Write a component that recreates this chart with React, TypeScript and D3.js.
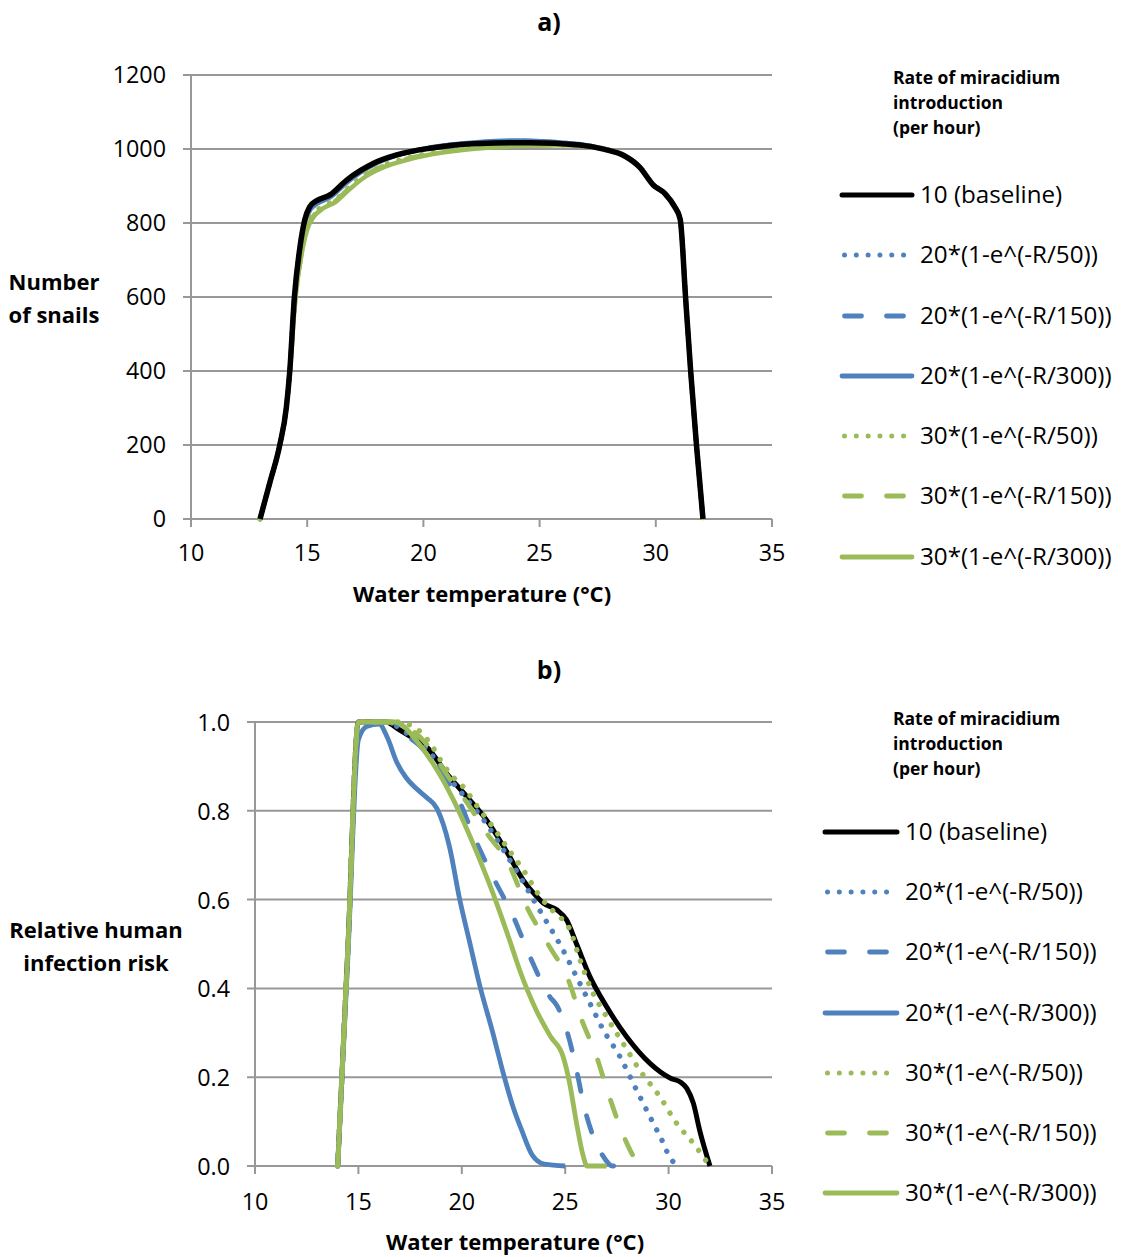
import React from 'react';
import * as d3 from 'd3';

type Pt = [number, number];

// ---------- shared labels ----------
const xTicks = [10, 15, 20, 25, 30, 35];
const snailTicks = [0, 200, 400, 600, 800, 1000, 1200];
const riskTicks = [0, 0.2, 0.4, 0.6, 0.8, 1.0];
const legendTitle = ['Rate of miracidium', 'introduction', '(per hour)'];
const legendLabels = [
  '10 (baseline)',
  '20*(1-e^(-R/50))',
  '20*(1-e^(-R/150))',
  '20*(1-e^(-R/300))',
  '30*(1-e^(-R/50))',
  '30*(1-e^(-R/150))',
  '30*(1-e^(-R/300))',
];

// ---------- panel a: number of snails ----------
const snailsBaseline: Pt[] = [
  [12.97, 0], [13.4, 100], [13.82, 200], [14.1, 300], [14.25, 400], [14.45, 600], [14.7, 740],
  [14.9, 810], [15.1, 843], [15.4, 860], [15.98, 876], [16.7, 916], [17.3, 942], [17.84, 961],
  [18.85, 984], [20.28, 1002], [22.43, 1015], [24.59, 1017], [26.74, 1011], [27.8, 999],
  [28.6, 983], [29.3, 951], [29.9, 902], [30.4, 879], [30.8, 845], [31.05, 810], [31.28, 600],
  [31.5, 400], [31.75, 200], [32.03, 0],
];
const snailsB50: Pt[] = [
  [12.97, 0], [13.4, 100], [13.82, 200], [14.1, 300], [14.25, 400], [14.45, 600], [14.7, 738],
  [14.9, 806], [15.1, 838], [15.4, 856], [15.98, 873], [16.7, 913], [17.3, 940], [17.84, 960],
  [18.85, 984], [20.28, 1003], [22.43, 1017], [24.3, 1021], [26.74, 1012], [27.8, 1000],
  [28.6, 984], [29.3, 952], [29.9, 903], [30.4, 880], [30.8, 846], [31.05, 811], [31.28, 600],
  [31.5, 400], [31.75, 200], [32.03, 0],
];
const snailsB150: Pt[] = [
  [12.97, 0], [13.4, 100], [13.82, 200], [14.1, 300], [14.25, 400], [14.45, 600], [14.7, 736],
  [14.9, 803], [15.1, 835], [15.4, 853], [15.98, 871], [16.7, 911], [17.3, 938], [17.84, 958],
  [18.85, 983], [20.28, 1003], [22.43, 1018], [24.2, 1022], [26.74, 1012], [27.8, 1000],
  [28.6, 984], [29.3, 952], [29.9, 903], [30.4, 880], [30.8, 846], [31.05, 811], [31.28, 600],
  [31.5, 400], [31.75, 200], [32.03, 0],
];
const snailsB300: Pt[] = [
  [12.97, 0], [13.4, 100], [13.82, 200], [14.1, 300], [14.25, 400], [14.45, 600], [14.7, 735],
  [14.9, 800], [15.1, 832], [15.4, 851], [15.98, 869], [16.7, 909], [17.3, 937], [17.84, 957],
  [18.85, 983], [20.28, 1004], [22.43, 1019], [24.1, 1023], [26.74, 1013], [27.8, 1000],
  [28.6, 984], [29.3, 952], [29.9, 903], [30.4, 880], [30.8, 846], [31.05, 811], [31.28, 600],
  [31.5, 400], [31.75, 200], [32.03, 0],
];
const snailsG50: Pt[] = [
  [12.97, 0], [13.4, 100], [13.82, 200], [14.1, 300], [14.25, 400], [14.5, 600], [14.8, 735],
  [15, 790], [15.3, 826], [15.7, 846], [16.2, 862], [16.8, 897], [17.5, 932], [18.3, 957],
  [19.2, 974], [20.3, 989], [21.5, 999], [23, 1007], [24.5, 1011], [26, 1011], [26.8, 1009],
  [27.8, 1000], [28.6, 984], [29.3, 952], [29.9, 903], [30.4, 880], [30.8, 846], [31.05, 811],
  [31.28, 600], [31.5, 400], [31.75, 200], [32.03, 0],
];
const snailsG150: Pt[] = [
  [12.97, 0], [13.4, 100], [13.82, 200], [14.1, 300], [14.25, 400], [14.5, 600], [14.8, 733],
  [15, 786], [15.3, 822], [15.7, 843], [16.2, 859], [16.8, 894], [17.5, 929], [18.3, 955],
  [19.2, 972], [20.3, 987], [21.5, 997], [23, 1005], [24.5, 1010], [26, 1010], [26.8, 1008],
  [27.8, 1000], [28.6, 984], [29.3, 952], [29.9, 903], [30.4, 880], [30.8, 846], [31.05, 811],
  [31.28, 600], [31.5, 400], [31.75, 200], [32.03, 0],
];
const snailsG300: Pt[] = [
  [12.97, 0], [13.4, 100], [13.82, 200], [14.1, 300], [14.25, 400], [14.5, 600], [14.8, 730],
  [15, 782], [15.3, 818], [15.7, 840], [16.2, 856], [16.8, 890], [17.5, 925], [18.3, 951],
  [19.2, 969], [20.3, 985], [21.5, 996], [23, 1004], [24.5, 1009], [26, 1010], [26.8, 1008],
  [27.8, 1000], [28.6, 984], [29.3, 952], [29.9, 903], [30.4, 880], [30.8, 846], [31.05, 811],
  [31.28, 600], [31.5, 400], [31.75, 200], [32.03, 0],
];

// ---------- panel b: relative human infection risk ----------
const riskBaseline: Pt[] = [
  [14, 0], [14.5, 0.5], [15, 1], [16.3, 1], [17, 0.982], [17.6, 0.965], [18.3, 0.944],
  [19.27, 0.884], [20.24, 0.832], [21.2, 0.779], [22.17, 0.708], [22.97, 0.644], [23.62, 0.607],
  [23.94, 0.592], [24.59, 0.577], [25.07, 0.554], [25.55, 0.5], [26.2, 0.426], [27.0, 0.359],
  [27.97, 0.291], [29.1, 0.231], [30.07, 0.198], [30.6, 0.188], [30.88, 0.175], [31.2, 0.141],
  [31.5, 0.081], [32.0, 0],
];
const riskB50: Pt[] = [
  [14, 0], [14.5, 0.5], [15, 1], [16.5, 1], [17, 0.985], [18.3, 0.94], [19.27, 0.88],
  [20.24, 0.826], [21.2, 0.77], [22.17, 0.7], [22.9, 0.645], [23.46, 0.6], [24.1, 0.55],
  [24.9, 0.486], [25.55, 0.426], [26.2, 0.366], [26.85, 0.306], [27.65, 0.246], [28.45, 0.171],
  [29.1, 0.111], [29.75, 0.051], [30.07, 0.018], [30.6, 0],
];
const riskB150: Pt[] = [
  [14, 0], [14.5, 0.5], [15, 1], [16.5, 1], [17, 0.98], [18, 0.945], [19, 0.885], [19.8, 0.83],
  [20.56, 0.745], [21.52, 0.65], [22.49, 0.562], [23.3, 0.471], [24.26, 0.381], [24.59, 0.362],
  [25.07, 0.306], [25.55, 0.216], [25.88, 0.141], [26.36, 0.066], [26.85, 0.021], [27.3, 0],
  [28, 0],
];
const riskB300: Pt[] = [
  [14, 0], [14.5, 0.48], [15, 0.96], [15.4, 0.99], [16, 0.995], [16.4, 0.965], [16.85, 0.91],
  [17.3, 0.875], [17.8, 0.85], [18.3, 0.83], [18.8, 0.805], [19.1, 0.77], [19.4, 0.72],
  [19.9, 0.6], [20.4, 0.5], [20.85, 0.41], [21.5, 0.3], [22, 0.21], [22.5, 0.13], [22.9, 0.08],
  [23.4, 0.025], [24, 0.004], [25, 0],
];
const riskG50: Pt[] = [
  [14, 0], [14.5, 0.5], [15, 1], [17, 1], [17.5, 0.993], [18, 0.978], [18.5, 0.95], [19, 0.912],
  [19.5, 0.88], [20.1, 0.852], [20.9, 0.8], [21.5, 0.764], [22.3, 0.71], [22.97, 0.667],
  [23.78, 0.607], [24.5, 0.57], [25.23, 0.532], [25.72, 0.464], [26.2, 0.404], [27.0, 0.336],
  [27.8, 0.276], [28.6, 0.216], [29.58, 0.156], [30.39, 0.096], [31.2, 0.051], [31.84, 0.01],
  [32, 0],
];
const riskG150: Pt[] = [
  [14, 0], [14.5, 0.5], [15, 1], [16.8, 1], [17.3, 0.99], [18.3, 0.95], [19.3, 0.88],
  [20.3, 0.815], [21.2, 0.75], [22.25, 0.682], [23.14, 0.584], [24.19, 0.498], [25.15, 0.419],
  [25.8, 0.329], [26.49, 0.25], [27.08, 0.164], [27.84, 0.066], [28.4, 0.015], [28.85, 0],
  [29.1, 0],
];
const riskG300: Pt[] = [
  [14, 0], [14.5, 0.5], [15, 1], [16.8, 1], [17.2, 0.99], [17.65, 0.967], [18.6, 0.907],
  [19.6, 0.824], [20.6, 0.72], [21.5, 0.615], [22.3, 0.51], [22.8, 0.441], [23.6, 0.351],
  [24.3, 0.291], [24.9, 0.246], [25.2, 0.19], [25.55, 0.096], [25.88, 0.021], [26.05, 0],
  [27, 0],
];

// ---------- styles ----------
const BLUE = '#4F81BD';
const GREEN = '#9BBB59';
const GRID = '#989898';
const FONT = "'Open Sans', 'Noto Sans', sans-serif";

type Style = { color: string; dash: string | null; kind: 'solid' | 'dot' | 'dash' };
const styles: Style[] = [
  { color: '#000', dash: null, kind: 'solid' },
  { color: BLUE, dash: '0.01 11.8', kind: 'dot' },
  { color: BLUE, dash: '17 25', kind: 'dash' },
  { color: BLUE, dash: null, kind: 'solid' },
  { color: GREEN, dash: '0.01 11.8', kind: 'dot' },
  { color: GREEN, dash: '17 25', kind: 'dash' },
  { color: GREEN, dash: null, kind: 'solid' },
];

type PanelCfg = {
  title: string;
  titleY: number;
  x0: number;
  x1: number;
  yTop: number;
  yBottom: number;
  yMax: number;
  yTicks: number[];
  yFmt: (v: number) => string;
  yLabelX: number;
  yLabelDy: number;
  xLabelBaseline: number;
  xTitleX: number;
  xTitleBaseline: number;
  yTitle: string[];
  yTitleX: number;
  yTitleBaselines: number[];
  legTitleX: number;
  legTitleBaselines: number[];
  legLineX0: number;
  legLineX1: number;
  legTextX: number;
  legRows: number[];
  series: Pt[][];
  drawOrder: number[];
  blackWidth: number;
  colorWidth: number;
};

function Panel({ c }: { c: PanelCfg }) {
  const x = d3.scaleLinear().domain([10, 35]).range([c.x0, c.x1]);
  const y = d3.scaleLinear().domain([0, c.yMax]).range([c.yBottom, c.yTop]);
  const line = d3
    .line<Pt>()
    .x((d) => x(d[0]))
    .y((d) => y(d[1]))
    .curve(d3.curveMonotoneX);

  return (
    <g>
      <text x={549} y={c.titleY} textAnchor="middle" fontFamily={FONT} fontWeight="bold" fontSize={25}>
        {c.title}
      </text>
      {c.yTicks.map((t) => (
        <line key={'g' + t} x1={c.x0 - 8} x2={c.x1} y1={y(t)} y2={y(t)} stroke={GRID} strokeWidth={2} />
      ))}
      <line x1={c.x0} x2={c.x0} y1={c.yTop} y2={c.yBottom} stroke={GRID} strokeWidth={2} />
      {xTicks.map((t) => (
        <line key={'xt' + t} x1={x(t)} x2={x(t)} y1={c.yBottom} y2={c.yBottom + 8} stroke={GRID} strokeWidth={2} />
      ))}
      {c.yTicks.map((t) => (
        <text key={'yl' + t} x={c.yLabelX} y={y(t) + c.yLabelDy} textAnchor="end" fontFamily={FONT} fontSize={23.3} fill="#000">
          {c.yFmt(t)}
        </text>
      ))}
      {xTicks.map((t) => (
        <text key={'xl' + t} x={x(t)} y={c.xLabelBaseline} textAnchor="middle" fontFamily={FONT} fontSize={23.3} fill="#000">
          {t}
        </text>
      ))}
      <text x={c.xTitleX} y={c.xTitleBaseline} textAnchor="middle" fontFamily={FONT} fontWeight="bold" fontSize={22}>
        Water temperature (°C)
      </text>
      {c.yTitle.map((s, i) => (
        <text key={'yt' + i} x={c.yTitleX} y={c.yTitleBaselines[i]} textAnchor="middle" fontFamily={FONT} fontWeight="bold" fontSize={22}>
          {s}
        </text>
      ))}
      {c.drawOrder.map((i) => {
        const st = styles[i];
        return (
          <path
            key={'s' + i}
            d={line(c.series[i]) || ''}
            fill="none"
            stroke={st.color}
            strokeWidth={i === 0 ? c.blackWidth : st.kind === 'dot' ? c.colorWidth + 0.6 : c.colorWidth}
            strokeDasharray={st.dash || undefined}
            strokeLinecap={st.kind === 'solid' ? 'butt' : 'round'}
            strokeLinejoin="round"
          />
        );
      })}
      {legendTitle.map((s, i) => (
        <text key={'lt' + i} x={c.legTitleX} y={c.legTitleBaselines[i]} fontFamily={FONT} fontWeight="bold" fontSize={17.5}>
          {s}
        </text>
      ))}
      {legendLabels.map((s, i) => {
        const st = styles[i];
        const ry = c.legRows[i];
        return (
          <g key={'le' + i}>
            <line
              x1={c.legLineX0 + (st.kind === 'solid' ? 0 : 2.5)}
              x2={c.legLineX1}
              y1={ry}
              y2={ry}
              stroke={st.color}
              strokeWidth={i === 0 ? 5 : st.kind === 'dot' ? 5 : 4.8}
              strokeDasharray={st.dash || undefined}
              strokeLinecap="round"
            />
            <text x={c.legTextX} y={ry + 8} fontFamily={FONT} fontSize={24.2}>
              {s}
            </text>
          </g>
        );
      })}
    </g>
  );
}

const panelA: PanelCfg = {
  title: 'a)',
  titleY: 31,
  x0: 191,
  x1: 772,
  yTop: 75,
  yBottom: 519,
  yMax: 1200,
  yTicks: snailTicks,
  yFmt: (v) => String(v),
  yLabelX: 166,
  yLabelDy: 8,
  xLabelBaseline: 561,
  xTitleX: 482,
  xTitleBaseline: 602,
  yTitle: ['Number', 'of snails'],
  yTitleX: 54,
  yTitleBaselines: [290, 323],
  legTitleX: 893,
  legTitleBaselines: [84, 109, 134],
  legLineX0: 842,
  legLineX1: 912,
  legTextX: 920,
  legRows: [195, 255, 316, 376, 436, 496, 557],
  series: [snailsBaseline, snailsB50, snailsB150, snailsB300, snailsG50, snailsG150, snailsG300],
  drawOrder: [1, 2, 3, 4, 5, 6, 0],
  blackWidth: 5.5,
  colorWidth: 4.5,
};

const panelB: PanelCfg = {
  title: 'b)',
  titleY: 679,
  x0: 255,
  x1: 772,
  yTop: 722,
  yBottom: 1166,
  yMax: 1,
  yTicks: riskTicks,
  yFmt: (v) => d3.format('.1f')(v),
  yLabelX: 230,
  yLabelDy: 9,
  xLabelBaseline: 1210,
  xTitleX: 515,
  xTitleBaseline: 1250,
  yTitle: ['Relative human', 'infection risk'],
  yTitleX: 96,
  yTitleBaselines: [938, 971],
  legTitleX: 893,
  legTitleBaselines: [725, 750, 775],
  legLineX0: 825,
  legLineX1: 897,
  legTextX: 905,
  legRows: [832, 892, 952, 1013, 1073, 1133, 1193],
  series: [riskBaseline, riskB50, riskB150, riskB300, riskG50, riskG150, riskG300],
  drawOrder: [0, 1, 2, 3, 4, 5, 6],
  blackWidth: 5,
  colorWidth: 4.8,
};

export default function App() {
  return (
    <svg
      width={1125}
      height={1257}
      viewBox="0 0 1125 1257"
      style={{ position: 'absolute', left: 0, top: 0, background: '#fff' }}
    >
      <rect width={1125} height={1257} fill="#fff" />
      <Panel c={panelA} />
      <Panel c={panelB} />
    </svg>
  );
}
